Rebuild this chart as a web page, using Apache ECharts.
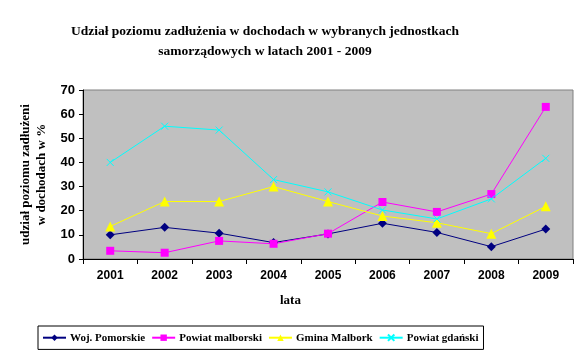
<!DOCTYPE html>
<html>
<head>
<meta charset="utf-8">
<script src="https://cdn.jsdelivr.net/npm/echarts@6/dist/echarts.min.js"></script>
<style>html,body{margin:0;padding:0;background:#fff}#c{width:588px;height:357px}</style>
</head>
<body>
<div id="c"></div>
<script>
const years = ['2001','2002','2003','2004','2005','2006','2007','2008','2009'];
const wojPomorskie = [10, 13.1, 10.7, 6.8, 10.4, 14.8, 11, 5.1, 12.4];
const powiatMalborski = [3.4, 2.6, 7.5, 6.3, 10.5, 23.6, 19.5, 26.9, 63];
const gminaMalbork = [13.5, 23.8, 23.8, 30, 23.8, 17.8, 15, 10.5, 21.8];
const powiatGdanski = [40, 55, 53.4, 32.9, 27.8, 20.3, 16.6, 24.9, 41.7];
const seriesNames = ['Woj. Pomorskie', 'Powiat malborski', 'Gmina Malbork', 'Powiat gdański'];
const yTicks = [0, 10, 20, 30, 40, 50, 60, 70];

const chart = echarts.init(document.getElementById('c'), null, {renderer: 'canvas'});
const serif = '"Liberation Serif", "Times New Roman", serif';
const sans = '"Liberation Sans", Arial, sans-serif';
const xPath = 'path://M0,0L10,10M10,0L0,10';

function mk(name, data, color, symbol, size, extra) {
  return Object.assign({
    name: name, type: 'line', data: data, symbol: symbol, symbolSize: size,
    lineStyle: {color: color, width: 1},
    itemStyle: {color: color},
    animation: false
  }, extra || {});
}

chart.setOption({
  animation: false,
  title: {
    text: 'Udział poziomu zadłużenia w dochodach w wybranych jednostkach\nsamorządowych w latach 2001 - 2009',
    left: 260, top: 17, textAlign: 'center',
    textStyle: {fontFamily: serif, fontWeight: 'bold', fontSize: 13.5, lineHeight: 20, color: '#000'}
  },
  grid: {left: 83, top: 90, right: 15, bottom: 98, show: true, backgroundColor: '#C0C0C0', borderColor: '#808080', borderWidth: 1},
  xAxis: {
    type: 'category', data: years, boundaryGap: true,
    axisLine: {lineStyle: {color: '#000', width: 1}},
    axisTick: {show: true, length: 5, lineStyle: {color: '#000'}},
    axisLabel: {fontFamily: sans, fontWeight: 'bold', fontSize: 12, color: '#000', margin: 11}
  },
  yAxis: {
    type: 'value', min: 0, max: 70, interval: 10,
    name: 'udział poziomu zadłużeni\nw dochodach w %',
    nameLocation: 'middle', nameGap: 33,
    nameTextStyle: {fontFamily: serif, fontWeight: 'bold', fontSize: 13, lineHeight: 16, color: '#000'},
    axisLine: {show: true, lineStyle: {color: '#000', width: 1}},
    axisTick: {show: true, length: 4, lineStyle: {color: '#000'}},
    splitLine: {show: false},
    axisLabel: {fontFamily: sans, fontWeight: 'bold', fontSize: 13, color: '#000', margin: 8,
      formatter: function (v) { return yTicks.indexOf(v) >= 0 ? String(v) : ''; }}
  },
  legend: {
    data: seriesNames, left: 38, top: 326, orient: 'horizontal',
    borderColor: '#000', borderWidth: 1, padding: [6, 5, 6, 4], itemGap: 6,
    itemWidth: 23, itemHeight: 8,
    textStyle: {fontFamily: serif, fontWeight: 'bold', fontSize: 11, color: '#000', padding: [0, 0, 0, -1]}
  },
  graphic: [{
    type: 'text', left: 280, top: 294,
    style: {text: 'lata', fontFamily: serif, fontWeight: 'bold', fontSize: 13, fill: '#000'}
  }],
  series: [
    mk(seriesNames[0], wojPomorskie, '#000080', 'diamond', 9),
    mk(seriesNames[1], powiatMalborski, '#FF00FF', 'rect', 8),
    mk(seriesNames[2], gminaMalbork, '#FFFF00', 'triangle', 10),
    mk(seriesNames[3], powiatGdanski, '#00FFFF', xPath, 7, {itemStyle: {color: 'none', borderColor: '#00FFFF', borderWidth: 1}})
  ]
});
</script>
</body>
</html>
